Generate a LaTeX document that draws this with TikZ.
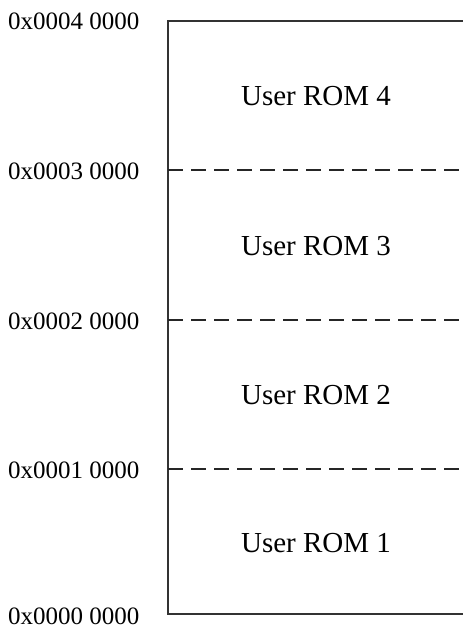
\documentclass[tikz,border=0pt]{standalone}
\usepackage{fontspec}
\setmainfont{Liberation Serif}
\begin{document}
\begin{tikzpicture}[x=1pt,y=-1pt,
  addr/.style={anchor=west,inner sep=0pt,font=\fontsize{25}{25}\selectfont},
  romtext/.style={inner sep=0pt,font=\fontsize{29}{29}\selectfont},
  border/.style={draw=black!80,line width=1.1pt},
  divider/.style={draw=black!85,line width=1.6pt,dash pattern=on 14.5pt off 8.5pt}]
\useasboundingbox (0,0) rectangle (463,629);
\coordinate (tr) at (463,21);
\coordinate (tl) at (168,21);
\coordinate (bl) at (168,614);
\coordinate (br) at (463,614);
\draw[border] (tr) -- (tl) -- (bl) -- (br);
\coordinate (d3l) at (168,170); \coordinate (d3r) at (463,170);
\coordinate (d2l) at (168,320); \coordinate (d2r) at (463,320);
\coordinate (d1l) at (168,469); \coordinate (d1r) at (463,469);
\draw[divider] (d3l) -- (d3r);
\draw[divider] (d2l) -- (d2r);
\draw[divider] (d1l) -- (d1r);
\node[addr] (a4) at (8,21) {0x0004 0000};
\node[addr] (a3) at (8,171) {0x0003 0000};
\node[addr] (a2) at (8,321) {0x0002 0000};
\node[addr] (a1) at (8,470) {0x0001 0000};
\node[addr] (a0) at (8,616) {0x0000 0000};
\node[romtext] (r4) at (316,96) {User ROM 4};
\node[romtext] (r3) at (316,246) {User ROM 3};
\node[romtext] (r2) at (316,395) {User ROM 2};
\node[romtext] (r1) at (316,543) {User ROM 1};
\end{tikzpicture}
\end{document}
